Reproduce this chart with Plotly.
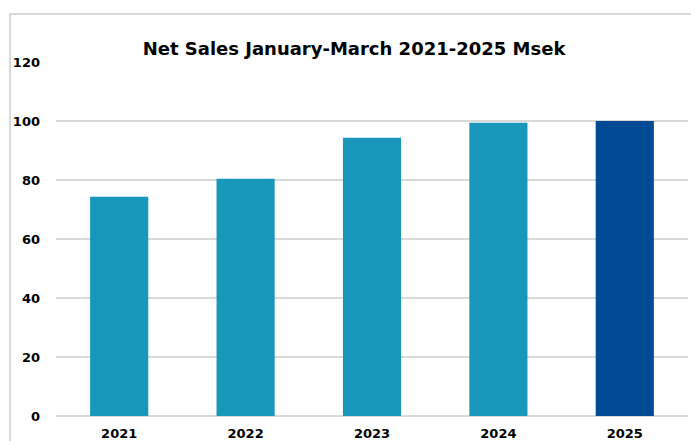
import plotly.graph_objects as go

years = ["2021", "2022", "2023", "2024", "2025"]
net_sales = [74.3, 80.4, 94.3, 99.4, 100.0]
bar_colors = ["#1897BA", "#1897BA", "#1897BA", "#1897BA", "#004B93"]
y_ticks = [0, 20, 40, 60, 80, 100, 120]

W, H = 691, 441
ml, mr, mt, mb = 56, 3, 62, 25
pw, ph = W - ml - mr, H - mt - mb

def px(x):
    return (x - ml) / pw

def py(y):
    return 1 - (y - mt) / ph

font_family = "DejaVu Sans"
tick_font = dict(size=13, color="black", family=font_family, weight="bold")

fig = go.Figure(go.Bar(
    x=years, y=net_sales, marker=dict(color=bar_colors, line=dict(width=0)),
    width=0.46,
))

fig.update_layout(
    width=W, height=H,
    margin=dict(l=ml, r=mr, t=mt, b=mb, autoexpand=False),
    paper_bgcolor="white", plot_bgcolor="white",
    showlegend=False,
    font=dict(family=font_family, color="black"),
    title=dict(
        text="<b>Net Sales January-March 2021-2025 Msek</b>",
        font=dict(size=18, family=font_family, color="black"),
        x=354 / W, xref="container", xanchor="center",
        y=1 - 49 / H, yref="container", yanchor="middle",
    ),
    xaxis=dict(
        showgrid=False, showline=False, zeroline=False,
        tickfont=tick_font, automargin=False,
        ticklabelstandoff=8,
    ),
    yaxis=dict(
        range=[0, 120], tickvals=y_ticks,
        showgrid=True, gridcolor="#d9d9d9", gridwidth=2,
        zeroline=True, zerolinecolor="#d9d9d9", zerolinewidth=2,
        showline=False, automargin=False,
        tickfont=tick_font,
        ticklabelstandoff=15,
    ),
    shapes=[dict(
        type="rect", xref="paper", yref="paper",
        x0=px(10), x1=px(720), y0=py(14), y1=py(480),
        line=dict(color="#d9d9d9", width=2), fillcolor="rgba(0,0,0,0)",
        layer="below",
    )],
)

fig.write_html("out.html")
